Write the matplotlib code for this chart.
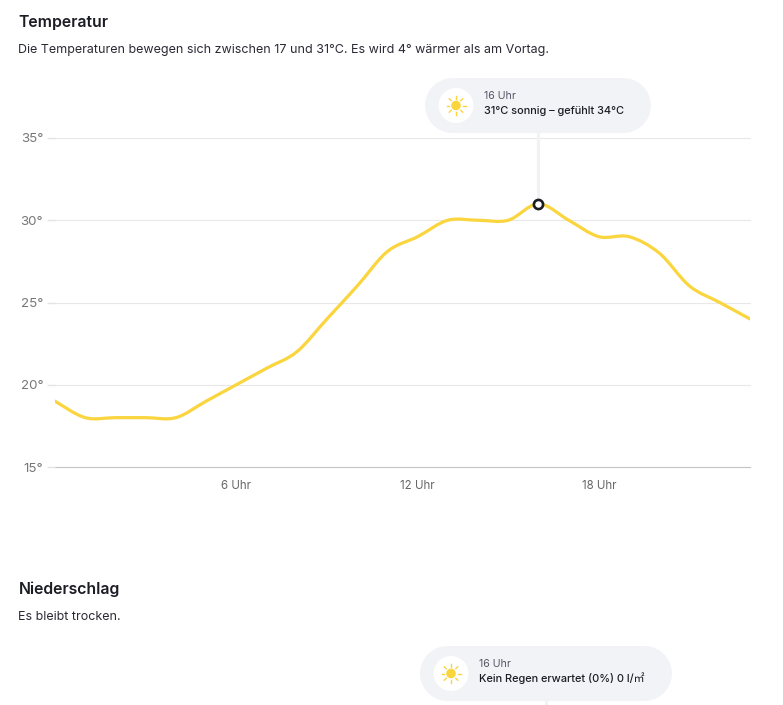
import matplotlib
matplotlib.use('Agg')
import matplotlib.pyplot as plt
import numpy as np
from matplotlib.patches import Circle, PathPatch
from matplotlib.path import Path

plt.rcParams['font.family'] = ['Inter', 'Noto Sans CJK SC', 'DejaVu Sans']

hours = list(range(24))
temps = [19, 18, 18, 18, 18, 19, 20, 21, 22, 24, 26, 28.1, 29, 30, 30, 30, 31, 30, 29, 29, 28, 26, 25, 24]
y_ticks = [15, 20, 25, 30, 35]
x_ticks = [6, 12, 18]
sel_hour = 16
sel_temp = 31

W, H = 783, 705
fig = plt.figure(figsize=(W / 100, H / 100), dpi=100, facecolor='white')

# overlay in pixel coords for headings and tooltips
bg = fig.add_axes([0, 0, 1, 1])
bg.set_xlim(0, W)
bg.set_ylim(H, 0)
bg.axis('off')

ax = fig.add_axes([55 / W, 1 - 467 / H, 695 / W, (467 - 138) / H])
ax.patch.set_alpha(0)
ax.set_xlim(0, 23)
ax.set_ylim(15, 35)
for s in ax.spines.values():
    s.set_visible(False)
ax.set_yticks(y_ticks)
ax.set_yticklabels([f'{v}°' for v in y_ticks], fontsize=9.6, color='#777777')
ax.set_xticks(x_ticks)
ax.set_xticklabels([f'{v} Uhr' for v in x_ticks], fontsize=8.3, color='#666666')
ax.tick_params(axis='x', length=0, pad=9.5)
ax.tick_params(axis='y', length=6, width=1, color='#e4e4e4', pad=2.5)
for v in y_ticks:
    ax.axhline(v, color='#c4c4c4' if v == 15 else '#e8e8e8', lw=0.8, zorder=1, clip_on=False)

# smooth line through the values, drawn as bezier segments
x = np.array(hours, dtype=float)
y = np.array(temps, dtype=float)
verts = [(x[0], y[0])]
codes = [Path.MOVETO]
for i in range(len(x) - 1):
    x0, y0 = (x[i - 1], y[i - 1]) if i > 0 else (x[i], y[i])
    x3, y3 = (x[i + 2], y[i + 2]) if i < len(x) - 2 else (x[i + 1], y[i + 1])
    verts.append((x[i] + (x[i + 1] - x0) / 6, y[i] + (y[i + 1] - y0) / 6))
    verts.append((x[i + 1] - (x3 - x[i]) / 6, y[i + 1] - (y3 - y[i]) / 6))
    verts.append((x[i + 1], y[i + 1]))
    codes += [Path.CURVE4] * 3
ax.add_patch(PathPatch(Path(verts, codes), fc='none', ec='#fad53e', lw=2.3, zorder=3, capstyle='round'))

ax.plot([sel_hour, sel_hour], [sel_temp, 35.3], color='#f1f2f6', lw=2.2, zorder=2, clip_on=False)
ax.plot([sel_hour], [sel_temp], 'o', ms=6.6, mfc='white', mec='#1c1c24', mew=1.9, zorder=5)


def pill(x0, x1, y0, y1, cx, hour_text, main_text, tx):
    r = (y1 - y0) / 2
    cy = (y0 + y1) / 2
    # thick line with round caps gives the full pill shape
    bg.plot([x0 + r - 0.8, x1 - r - 0.8], [cy - 0.8, cy - 0.8], color='#f2f3f7', lw=(y1 - y0) * 0.72,
            solid_capstyle='round', zorder=2)
    bg.add_patch(Circle((cx, cy), 17.5, fc='white', ec='none', zorder=3))
    bg.add_patch(Circle((cx, cy), 4.8, fc='#fad53e', ec='none', zorder=4))
    for a in np.arange(0, 360, 45):
        c, s = np.cos(np.radians(a)), np.sin(np.radians(a))
        bg.plot([cx + 6.8 * c, cx + 9.5 * c], [cy + 6.8 * s, cy + 9.5 * s], color='#fad53e', lw=1, zorder=4)
    bg.text(tx, cy - 9.5, hour_text, fontsize=7.6, color='#555566', va='center', zorder=4)
    bg.text(tx, cy + 5, main_text, fontsize=7.9, color='#1c1c24', va='center', zorder=4, fontweight='medium')


pill(425, 651, 78, 133, 456, '16 Uhr', '31°C sonnig – gefühlt 34°C', 484)
pill(420, 672, 646, 701, 451, '16 Uhr', 'Kein Regen erwartet (0%) 0 l/㎡', 479)
bg.plot([546, 546], [701, 705], color='#f1f2f6', lw=2.2)

bg.text(18.5, 22, 'Temperatur', fontsize=11.4, fontweight='semibold', color='#1c1c24', va='center')
bg.text(18.5, 49.5, 'Die Temperaturen bewegen sich zwischen 17 und 31°C. Es wird 4° wärmer als am Vortag.',
        fontsize=9.0, color='#2a2a35', va='center')
bg.text(18.5, 589, 'Niederschlag', fontsize=11.4, fontweight='semibold', color='#1c1c24', va='center')
bg.text(18.5, 617, 'Es bleibt trocken.', fontsize=9.0, color='#2a2a35', va='center')

fig.savefig('out.png', dpi=100)
